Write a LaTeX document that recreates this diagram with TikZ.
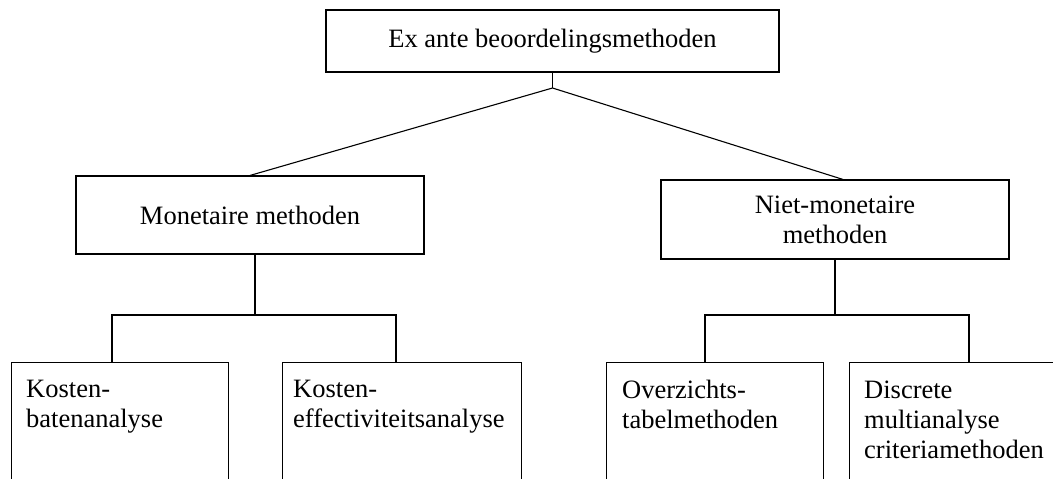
\documentclass[tikz,border=0pt]{standalone}
\usepackage{fontspec}
\setmainfont{Liberation Serif}
\begin{document}
\begin{tikzpicture}[x=1pt,y=-1pt,
  every node/.style={font=\fontsize{26.5}{30}\selectfont},
  box/.style={draw, line width=1.1pt, inner sep=0pt, align=center},
  leafbox/.style={draw, line width=1.1pt, inner sep=0pt, anchor=north west, minimum height=140pt},
  leaftext/.style={inner sep=0pt, anchor=north west, align=left},
  conn/.style={line width=1.1pt}]
\useasboundingbox (0,0) rectangle (1053,479);
\clip (0,0) rectangle (1053,479);
\node[box, minimum width=453pt, minimum height=62pt] (top) at (552.5,41) {Ex ante beoordelingsmethoden};
\node[box, minimum width=348pt, minimum height=78pt] (mon) at (250,215) {Monetaire methoden};
\node[box, minimum width=348pt, minimum height=79pt] (niet) at (835,219.5) {Niet-monetaire\\methoden};
\node[leafbox, minimum width=217.3pt] (b1) at (10.7,362) {};
\node[leafbox, minimum width=239pt] (b2) at (282,362) {};
\node[leafbox, minimum width=217pt] (b3) at (606,362) {};
\node[leafbox, minimum width=260pt] (b4) at (849,362) {};
\node[leaftext] (t1) at ([shift={(15.3,18.3)}]b1.north west) {Kosten-\\batenanalyse};
\node[leaftext] (t2) at ([shift={(11,18.3)}]b2.north west) {Kosten-\\effectiviteitsanalyse};
\node[leaftext] (t3) at ([shift={(16,18)}]b3.north west) {Overzichts-\\tabelmethoden};
\node[leaftext] (t4) at ([shift={(15,18.3)}]b4.north west) {Discrete\\multianalyse\\criteriamethoden};
\coordinate (j1) at (552.5,88);
\draw[conn] (top.south) -- (j1);
\draw[conn] (j1) -- (mon.north);
\draw[conn] (j1) -- ([xshift=8pt]niet.north);
\coordinate (hl) at (255,315);
\coordinate (hr) at (835,315);
\draw[conn] ([xshift=5pt]mon.south) -- (hl);
\draw[conn] ([xshift=101.3pt]b1.north west) |- (hl) -| ([xshift=114pt]b2.north west);
\draw[conn] (niet.south) -- (hr);
\draw[conn] ([xshift=99pt]b3.north west) |- (hr) -| ([xshift=120pt]b4.north west);
\end{tikzpicture}
\end{document}
